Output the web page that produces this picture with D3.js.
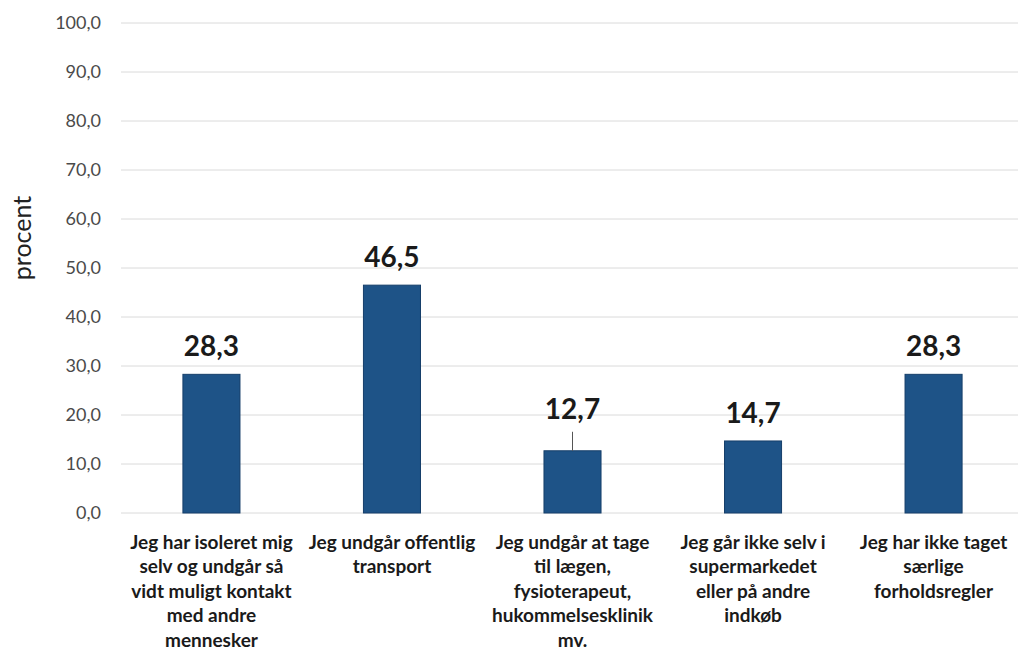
<!DOCTYPE html>
<html>
<head>
<meta charset="utf-8">
<script src="https://cdn.jsdelivr.net/npm/d3@7"></script>
<style>
  html, body { margin: 0; padding: 0; background: #fff; }
  svg { display: block; font-family: Lato, "Open Sans", sans-serif; }
</style>
</head>
<body>
<svg id="chart" width="1018" height="654"></svg>
<script>
const categories = [
  "Jeg har isoleret mig\nselv og undgår så\nvidt muligt kontakt\nmed andre\nmennesker",
  "Jeg undgår offentlig\ntransport",
  "Jeg undgår at tage\ntil lægen,\nfysioterapeut,\nhukommelsesklinik\nmv.",
  "Jeg går ikke selv i\nsupermarkedet\neller på andre\nindkøb",
  "Jeg har ikke taget\nsærlige\nforholdsregler"
];
const values = [28.3, 46.5, 12.7, 14.7, 28.3];
const valueLabels = ["28,3", "46,5", "12,7", "14,7", "28,3"];
const yTicks = [0, 10, 20, 30, 40, 50, 60, 70, 80, 90, 100];
const yTitle = "procent";

const svg = d3.select("#chart");
const x0 = 121, x1 = 1024, yBottom = 513, yTop = 23;

const x = d3.scaleBand()
  .domain(categories)
  .range([x0, x1])
  .paddingInner(0.684)
  .paddingOuter(0.343);

const y = d3.scaleLinear().domain([0, 100]).range([yBottom, yTop]);

const fmt = v => d3.format(".1f")(v).replace(".", ",");

// gridlines
svg.append("g")
  .selectAll("line")
  .data(yTicks)
  .join("line")
  .attr("x1", x0)
  .attr("x2", x1)
  .attr("y1", d => y(d))
  .attr("y2", d => y(d))
  .attr("stroke", "#dadada")
  .attr("stroke-width", 1);

// y axis labels
const yAxis = d3.axisLeft(y).tickValues(yTicks).tickFormat(fmt).tickSize(0).tickPadding(0);
const gy = svg.append("g").attr("transform", `translate(101,0)`).call(yAxis);
gy.select(".domain").remove();
gy.selectAll("text")
  .attr("font-family", "Lato, sans-serif")
  .attr("font-size", 18)
  .attr("fill", "#4a4a4a");

// y title
svg.append("text")
  .attr("transform", `translate(31,238) rotate(-90)`)
  .attr("text-anchor", "middle")
  .attr("font-size", 25)
  .attr("fill", "#222")
  .text(yTitle);

// bars
svg.append("g")
  .selectAll("rect")
  .data(values)
  .join("rect")
  .attr("x", (d, i) => x(categories[i]))
  .attr("width", x.bandwidth())
  .attr("y", d => y(d))
  .attr("height", d => y(0) - y(d))
  .attr("fill", "#1e5387")
  .attr("stroke", "#163f6a")
  .attr("stroke-width", 1);

// value labels (third label lifted with leader line)
const lifted = [false, false, true, false, false];
const cx = i => x(categories[i]) + x.bandwidth() / 2;
svg.append("g")
  .selectAll("text")
  .data(values)
  .join("text")
  .attr("x", (d, i) => cx(i))
  .attr("y", (d, i) => y(d) - (lifted[i] ? 32 : 18))
  .attr("text-anchor", "middle")
  .attr("font-size", 28)
  .attr("font-weight", "bold")
  .attr("fill", "#1a1a1a")
  .text((d, i) => valueLabels[i]);

svg.append("g")
  .selectAll("line")
  .data(values.map((v, i) => ({v, i})).filter(o => lifted[o.i]))
  .join("line")
  .attr("x1", o => cx(o.i))
  .attr("x2", o => cx(o.i))
  .attr("y1", o => y(o.v))
  .attr("y2", o => y(o.v) - 19)
  .attr("stroke", "#555")
  .attr("stroke-width", 1);

// category labels
const gc = svg.append("g");
categories.forEach((c, i) => {
  const t = gc.append("text")
    .attr("x", cx(i))
    .attr("y", 549)
    .attr("text-anchor", "middle")
    .attr("font-size", 19)
    .attr("font-weight", "bold")
    .attr("fill", "#1a1a1a");
  c.split("\n").forEach((line, k) => {
    t.append("tspan")
      .attr("x", cx(i))
      .attr("dy", k === 0 ? 0 : 24.4)
      .text(line);
  });
});
</script>
</body>
</html>
